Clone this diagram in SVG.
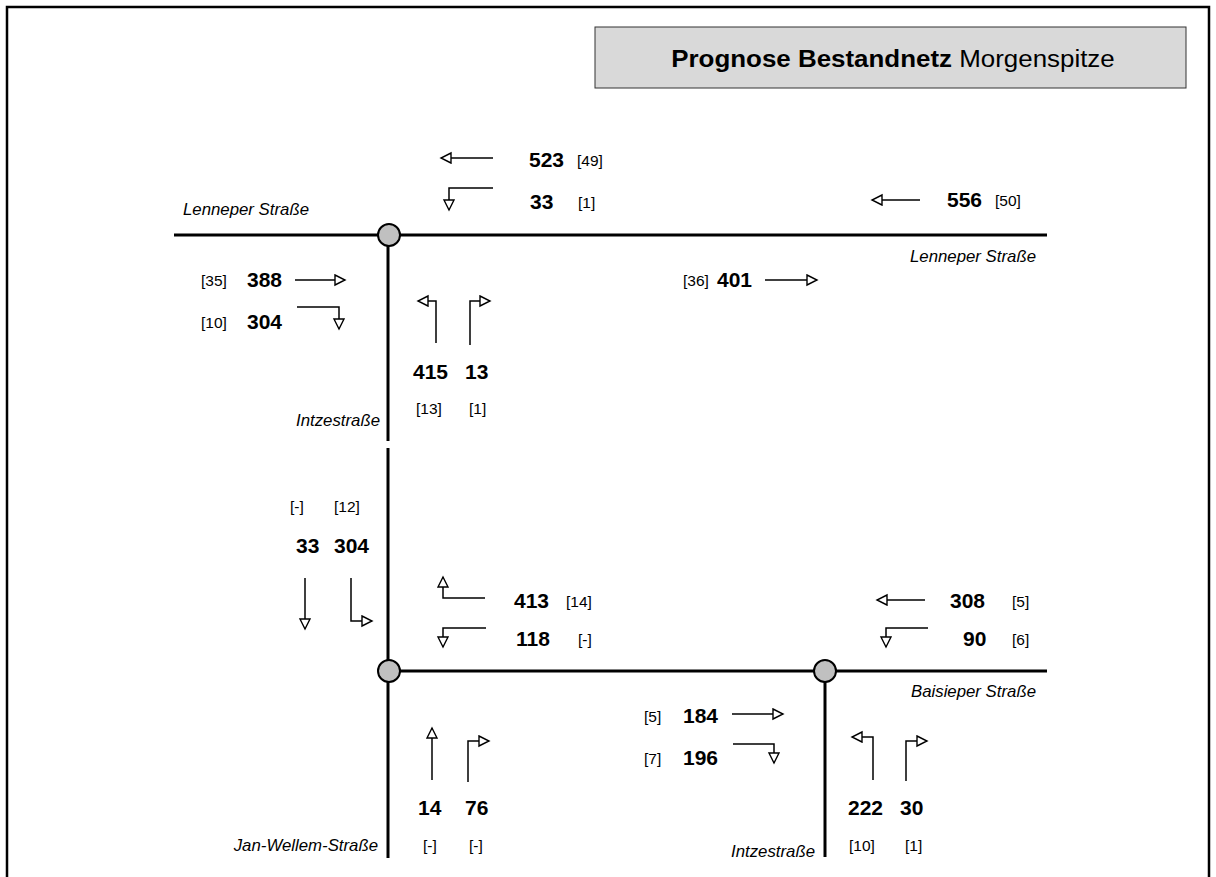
<svg xmlns="http://www.w3.org/2000/svg" width="1216" height="877" viewBox="0 0 1216 877">
<defs>
<style>
.road{stroke:#000;stroke-width:3;fill:none}
.arr{stroke:#000;stroke-width:1.5;fill:none;marker-end:url(#ah)}
.node{fill:#c0c0c0;stroke:#000;stroke-width:2}
.num{font-family:"Liberation Sans",Arial,sans-serif;font-weight:bold;font-size:21px;fill:#000}
.br{font-family:"Liberation Sans",Arial,sans-serif;font-size:15.5px;fill:#000}
.lbl{font-family:"Liberation Sans",Arial,sans-serif;font-style:italic;font-size:16px;fill:#000}
.ttl{font-family:"Liberation Sans",Arial,sans-serif;font-size:24px;fill:#000}
</style>
<marker id="ah" markerUnits="userSpaceOnUse" markerWidth="14" markerHeight="14" refX="11" refY="6" orient="auto">
<path d="M1,1 L11,6 L1,11 z" fill="#fff" stroke="#000" stroke-width="1.4"/>
</marker>
</defs>
<rect width="1216" height="877" fill="#fff"/>
<path d="M7,877 V7 H1209 V877" fill="none" stroke="#000" stroke-width="2.5"/>
<g id="title">
<rect x="595" y="27" width="591" height="61" fill="#d9d9d9" stroke="#333" stroke-width="1"/>
<text class="ttl" transform="translate(893,67) scale(1.08,1)" text-anchor="middle"><tspan font-weight="bold">Prognose Bestandnetz</tspan> Morgenspitze</text>
</g>
<g id="roads">
<line class="road" x1="174" y1="235" x2="1047" y2="235"/>
<line class="road" x1="388" y1="235" x2="388" y2="441"/>
<line class="road" x1="388" y1="448" x2="388" y2="858"/>
<line class="road" x1="390" y1="671" x2="1047" y2="671"/>
<line class="road" x1="825" y1="671" x2="825" y2="857"/>
</g>
<g id="connectors">
<line class="arr" x1="493" y1="158" x2="441" y2="158"/>
<polyline class="arr" points="493,188 449,188 449,210"/>
<line class="arr" x1="920" y1="200" x2="872" y2="200"/>
<line class="arr" x1="295" y1="280" x2="345" y2="280"/>
<polyline class="arr" points="297,307 339,307 339,329"/>
<line class="arr" x1="765" y1="280" x2="817" y2="280"/>
<polyline class="arr" points="436,343 436,301 418,301"/>
<polyline class="arr" points="470,345 470,301 490,301"/>
<line class="arr" x1="305" y1="578" x2="305" y2="629"/>
<polyline class="arr" points="351,578 351,621 372,621"/>
<polyline class="arr" points="485,598 443,598 443,577"/>
<polyline class="arr" points="486,628 443,628 443,647"/>
<line class="arr" x1="925" y1="600" x2="877" y2="600"/>
<polyline class="arr" points="928,628 886,628 886,647"/>
<line class="arr" x1="732" y1="714" x2="783" y2="714"/>
<polyline class="arr" points="733,744 774,744 774,763"/>
<line class="arr" x1="432" y1="780" x2="432" y2="728"/>
<polyline class="arr" points="468,782 468,741 489,741"/>
<polyline class="arr" points="873,780 873,737 852,737"/>
<polyline class="arr" points="906,781 906,741 927,741"/>
</g>
<g id="n1"><circle class="node" cx="389" cy="235" r="11"/></g>
<g id="n2"><circle class="node" cx="389" cy="671" r="11"/></g>
<g id="n3"><circle class="node" cx="825" cy="671" r="11"/></g>
<g id="labels">
<text class="lbl" transform="translate(183,215) scale(1.05,1)">Lenneper Straße</text>
<text class="lbl" transform="translate(1036,262) scale(1.05,1)" text-anchor="end">Lenneper Straße</text>
<text class="lbl" transform="translate(380,426) scale(1.05,1)" text-anchor="end">Intzestraße</text>
<text class="lbl" transform="translate(1036,697) scale(1.05,1)" text-anchor="end">Baisieper Straße</text>
<text class="lbl" transform="translate(378,851) scale(1.05,1)" text-anchor="end">Jan-Wellem-Straße</text>
<text class="lbl" transform="translate(815,857) scale(1.05,1)" text-anchor="end">Intzestraße</text>
</g>
<g id="values">
<text class="num" x="529" y="167">523</text>
<text class="br" x="577" y="166">[49]</text>
<text class="num" x="530" y="209">33</text>
<text class="br" x="578" y="208">[1]</text>
<text class="num" x="947" y="207">556</text>
<text class="br" x="995" y="206">[50]</text>
<text class="br" x="683" y="286">[36]</text>
<text class="num" x="717" y="287">401</text>
<text class="br" x="201" y="286">[35]</text>
<text class="num" x="247" y="287">388</text>
<text class="br" x="201" y="328">[10]</text>
<text class="num" x="247" y="329">304</text>
<text class="num" x="413" y="379">415</text>
<text class="num" x="465" y="379">13</text>
<text class="br" x="416" y="414">[13]</text>
<text class="br" x="469" y="414">[1]</text>
<text class="br" x="290" y="512">[-]</text>
<text class="br" x="334" y="512">[12]</text>
<text class="num" x="296" y="553">33</text>
<text class="num" x="334" y="553">304</text>
<text class="num" x="514" y="608">413</text>
<text class="br" x="566" y="607">[14]</text>
<text class="num" x="516" y="646">118</text>
<text class="br" x="578" y="645">[-]</text>
<text class="num" x="950" y="608">308</text>
<text class="br" x="1012" y="607">[5]</text>
<text class="num" x="963" y="646">90</text>
<text class="br" x="1012" y="645">[6]</text>
<text class="br" x="644" y="722">[5]</text>
<text class="num" x="683" y="723">184</text>
<text class="br" x="644" y="764">[7]</text>
<text class="num" x="683" y="765">196</text>
<text class="num" x="418" y="815">14</text>
<text class="num" x="465" y="815">76</text>
<text class="br" x="423" y="851">[-]</text>
<text class="br" x="469" y="851">[-]</text>
<text class="num" x="848" y="815">222</text>
<text class="num" x="900" y="815">30</text>
<text class="br" x="849" y="851">[10]</text>
<text class="br" x="905" y="851">[1]</text>
</g>
</svg>
